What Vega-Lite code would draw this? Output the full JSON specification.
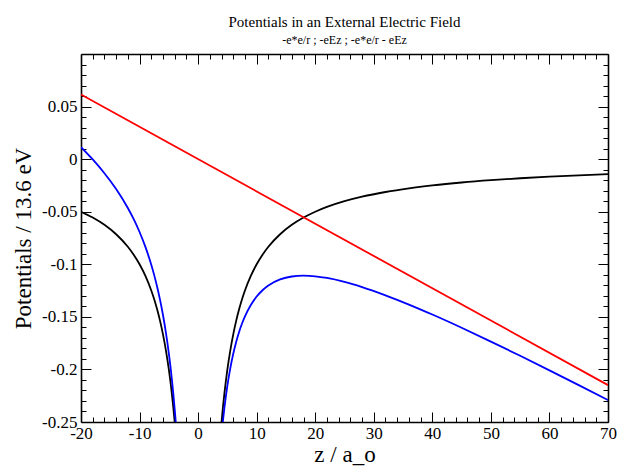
{
  "$schema": "https://vega.github.io/schema/vega-lite/v6.json",
  "width": 527,
  "height": 368,
  "autosize": {"type": "none"},
  "padding": {"left": 81, "top": 54, "right": 21, "bottom": 45},
  "background": "white",
  "title": {
    "text": "Potentials in an External Electric Field",
    "subtitle": "-e*e/r ; -eEz ; -e*e/r - eEz"
  },
  "data": {
    "values": [
      {"z": -20, "v": -0.05, "s": "Coulomb", "g": "c1"},
      {"z": -18, "v": -0.05556, "s": "Coulomb", "g": "c1"},
      {"z": -16, "v": -0.0625, "s": "Coulomb", "g": "c1"},
      {"z": -14, "v": -0.07143, "s": "Coulomb", "g": "c1"},
      {"z": -12, "v": -0.08333, "s": "Coulomb", "g": "c1"},
      {"z": -11, "v": -0.09091, "s": "Coulomb", "g": "c1"},
      {"z": -10, "v": -0.1, "s": "Coulomb", "g": "c1"},
      {"z": -9, "v": -0.11111, "s": "Coulomb", "g": "c1"},
      {"z": -8, "v": -0.125, "s": "Coulomb", "g": "c1"},
      {"z": -7.5, "v": -0.13333, "s": "Coulomb", "g": "c1"},
      {"z": -7, "v": -0.14286, "s": "Coulomb", "g": "c1"},
      {"z": -6.5, "v": -0.15385, "s": "Coulomb", "g": "c1"},
      {"z": -6, "v": -0.16667, "s": "Coulomb", "g": "c1"},
      {"z": -5.5, "v": -0.18182, "s": "Coulomb", "g": "c1"},
      {"z": -5, "v": -0.2, "s": "Coulomb", "g": "c1"},
      {"z": -4.75, "v": -0.21053, "s": "Coulomb", "g": "c1"},
      {"z": -4.5, "v": -0.22222, "s": "Coulomb", "g": "c1"},
      {"z": -4.25, "v": -0.23529, "s": "Coulomb", "g": "c1"},
      {"z": -4, "v": -0.25, "s": "Coulomb", "g": "c1"},
      {"z": -3.9, "v": -0.25641, "s": "Coulomb", "g": "c1"},
      {"z": 3.9, "v": -0.25641, "s": "Coulomb", "g": "c2"},
      {"z": 4, "v": -0.25, "s": "Coulomb", "g": "c2"},
      {"z": 4.25, "v": -0.23529, "s": "Coulomb", "g": "c2"},
      {"z": 4.5, "v": -0.22222, "s": "Coulomb", "g": "c2"},
      {"z": 4.75, "v": -0.21053, "s": "Coulomb", "g": "c2"},
      {"z": 5, "v": -0.2, "s": "Coulomb", "g": "c2"},
      {"z": 5.5, "v": -0.18182, "s": "Coulomb", "g": "c2"},
      {"z": 6, "v": -0.16667, "s": "Coulomb", "g": "c2"},
      {"z": 6.5, "v": -0.15385, "s": "Coulomb", "g": "c2"},
      {"z": 7, "v": -0.14286, "s": "Coulomb", "g": "c2"},
      {"z": 7.5, "v": -0.13333, "s": "Coulomb", "g": "c2"},
      {"z": 8, "v": -0.125, "s": "Coulomb", "g": "c2"},
      {"z": 9, "v": -0.11111, "s": "Coulomb", "g": "c2"},
      {"z": 10, "v": -0.1, "s": "Coulomb", "g": "c2"},
      {"z": 11, "v": -0.09091, "s": "Coulomb", "g": "c2"},
      {"z": 12, "v": -0.08333, "s": "Coulomb", "g": "c2"},
      {"z": 14, "v": -0.07143, "s": "Coulomb", "g": "c2"},
      {"z": 16, "v": -0.0625, "s": "Coulomb", "g": "c2"},
      {"z": 18, "v": -0.05556, "s": "Coulomb", "g": "c2"},
      {"z": 20, "v": -0.05, "s": "Coulomb", "g": "c2"},
      {"z": 22, "v": -0.04545, "s": "Coulomb", "g": "c2"},
      {"z": 25, "v": -0.04, "s": "Coulomb", "g": "c2"},
      {"z": 28, "v": -0.03571, "s": "Coulomb", "g": "c2"},
      {"z": 32, "v": -0.03125, "s": "Coulomb", "g": "c2"},
      {"z": 36, "v": -0.02778, "s": "Coulomb", "g": "c2"},
      {"z": 40, "v": -0.025, "s": "Coulomb", "g": "c2"},
      {"z": 45, "v": -0.02222, "s": "Coulomb", "g": "c2"},
      {"z": 50, "v": -0.02, "s": "Coulomb", "g": "c2"},
      {"z": 55, "v": -0.01818, "s": "Coulomb", "g": "c2"},
      {"z": 60, "v": -0.01667, "s": "Coulomb", "g": "c2"},
      {"z": 65, "v": -0.01538, "s": "Coulomb", "g": "c2"},
      {"z": 70, "v": -0.01429, "s": "Coulomb", "g": "c2"},
      {"z": -20, "v": 0.0614, "s": "Field", "g": "f"},
      {"z": 70, "v": -0.2149, "s": "Field", "g": "f"},
      {"z": -20, "v": 0.0114, "s": "Total", "g": "t1"},
      {"z": -18, "v": -0.0003, "s": "Total", "g": "t1"},
      {"z": -16, "v": -0.01338, "s": "Total", "g": "t1"},
      {"z": -14, "v": -0.02845, "s": "Total", "g": "t1"},
      {"z": -12, "v": -0.04649, "s": "Total", "g": "t1"},
      {"z": -11, "v": -0.05714, "s": "Total", "g": "t1"},
      {"z": -10, "v": -0.0693, "s": "Total", "g": "t1"},
      {"z": -9, "v": -0.08348, "s": "Total", "g": "t1"},
      {"z": -8, "v": -0.10044, "s": "Total", "g": "t1"},
      {"z": -7.5, "v": -0.1103, "s": "Total", "g": "t1"},
      {"z": -7, "v": -0.12137, "s": "Total", "g": "t1"},
      {"z": -6.5, "v": -0.13389, "s": "Total", "g": "t1"},
      {"z": -6, "v": -0.14825, "s": "Total", "g": "t1"},
      {"z": -5.5, "v": -0.16493, "s": "Total", "g": "t1"},
      {"z": -5, "v": -0.18465, "s": "Total", "g": "t1"},
      {"z": -4.75, "v": -0.19595, "s": "Total", "g": "t1"},
      {"z": -4.5, "v": -0.2084, "s": "Total", "g": "t1"},
      {"z": -4.25, "v": -0.22224, "s": "Total", "g": "t1"},
      {"z": -4, "v": -0.23772, "s": "Total", "g": "t1"},
      {"z": -3.9, "v": -0.24444, "s": "Total", "g": "t1"},
      {"z": -3.8, "v": -0.25149, "s": "Total", "g": "t1"},
      {"z": 4, "v": -0.26228, "s": "Total", "g": "t2"},
      {"z": 4.25, "v": -0.24834, "s": "Total", "g": "t2"},
      {"z": 4.5, "v": -0.23604, "s": "Total", "g": "t2"},
      {"z": 4.75, "v": -0.22511, "s": "Total", "g": "t2"},
      {"z": 5, "v": -0.21535, "s": "Total", "g": "t2"},
      {"z": 5.5, "v": -0.19871, "s": "Total", "g": "t2"},
      {"z": 6, "v": -0.18509, "s": "Total", "g": "t2"},
      {"z": 6.5, "v": -0.17381, "s": "Total", "g": "t2"},
      {"z": 7, "v": -0.16435, "s": "Total", "g": "t2"},
      {"z": 7.5, "v": -0.15636, "s": "Total", "g": "t2"},
      {"z": 8, "v": -0.14956, "s": "Total", "g": "t2"},
      {"z": 9, "v": -0.13874, "s": "Total", "g": "t2"},
      {"z": 10, "v": -0.1307, "s": "Total", "g": "t2"},
      {"z": 11, "v": -0.12468, "s": "Total", "g": "t2"},
      {"z": 12, "v": -0.12017, "s": "Total", "g": "t2"},
      {"z": 14, "v": -0.11441, "s": "Total", "g": "t2"},
      {"z": 16, "v": -0.11162, "s": "Total", "g": "t2"},
      {"z": 18, "v": -0.11082, "s": "Total", "g": "t2"},
      {"z": 20, "v": -0.1114, "s": "Total", "g": "t2"},
      {"z": 22, "v": -0.11299, "s": "Total", "g": "t2"},
      {"z": 25, "v": -0.11675, "s": "Total", "g": "t2"},
      {"z": 28, "v": -0.12167, "s": "Total", "g": "t2"},
      {"z": 32, "v": -0.12949, "s": "Total", "g": "t2"},
      {"z": 36, "v": -0.1383, "s": "Total", "g": "t2"},
      {"z": 40, "v": -0.1478, "s": "Total", "g": "t2"},
      {"z": 45, "v": -0.16037, "s": "Total", "g": "t2"},
      {"z": 50, "v": -0.1735, "s": "Total", "g": "t2"},
      {"z": 55, "v": -0.18703, "s": "Total", "g": "t2"},
      {"z": 60, "v": -0.20087, "s": "Total", "g": "t2"},
      {"z": 65, "v": -0.21493, "s": "Total", "g": "t2"},
      {"z": 70, "v": -0.22919, "s": "Total", "g": "t2"}
    ]
  },
  "resolve": {"axis": {"x": "independent", "y": "independent"}},
  "layer": [
    {
      "mark": {"type": "line", "clip": true, "strokeWidth": 1.8, "interpolate": "monotone"},
      "encoding": {
        "x": {
          "field": "z", "type": "quantitative",
          "scale": {"domain": [-20, 70], "nice": false, "zero": false},
          "axis": {
            "orient": "bottom", "values": [-20, -10, 0, 10, 20, 30, 40, 50, 60, 70],
            "tickSize": -10, "labelPadding": 13, "labelFlush": false, "labelOverlap": false,
            "labelExpr": "'' + datum.value", "title": "z / a_o", "titlePadding": 2
          }
        },
        "y": {
          "field": "v", "type": "quantitative",
          "scale": {"domain": [-0.25, 0.1], "nice": false, "zero": false},
          "axis": {
            "orient": "left", "values": [-0.25, -0.2, -0.15, -0.1, -0.05, 0, 0.05],
            "tickSize": -10, "labelPadding": 14, "labelFlush": false, "labelOverlap": false,
            "labelExpr": "'' + datum.value", "title": "Potentials / 13.6 eV", "titlePadding": 6
          }
        },
        "color": {
          "field": "s", "type": "nominal",
          "scale": {"domain": ["Coulomb", "Field", "Total"], "range": ["black", "red", "blue"]},
          "legend": null
        },
        "detail": {"field": "g", "type": "nominal"}
      }
    },
    {
      "mark": {"type": "line", "opacity": 0},
      "encoding": {
        "x": {
          "field": "z", "type": "quantitative",
          "axis": {
            "orient": "bottom",
            "values": [-18, -16, -14, -12, -8, -6, -4, -2, 2, 4, 6, 8, 12, 14, 16, 18, 22, 24, 26, 28, 32, 34, 36, 38, 42, 44, 46, 48, 52, 54, 56, 58, 62, 64, 66, 68],
            "tickSize": -5, "labels": false, "domain": false, "title": null
          }
        },
        "y": {
          "field": "v", "type": "quantitative",
          "axis": {
            "orient": "left",
            "values": [-0.24, -0.23, -0.22, -0.21, -0.19, -0.18, -0.17, -0.16, -0.14, -0.13, -0.12, -0.11, -0.09, -0.08, -0.07, -0.06, -0.04, -0.03, -0.02, -0.01, 0.01, 0.02, 0.03, 0.04, 0.06, 0.07, 0.08, 0.09],
            "tickSize": -5, "labels": false, "domain": false, "title": null
          }
        }
      }
    },
    {
      "mark": {"type": "line", "opacity": 0},
      "encoding": {
        "x": {
          "field": "z", "type": "quantitative",
          "axis": {
            "orient": "top", "values": [-20, -10, 0, 10, 20, 30, 40, 50, 60, 70],
            "tickSize": -10, "labels": false, "title": null
          }
        },
        "y": {
          "field": "v", "type": "quantitative",
          "axis": {
            "orient": "right", "values": [-0.25, -0.2, -0.15, -0.1, -0.05, 0, 0.05, 0.1],
            "tickSize": -10, "labels": false, "title": null
          }
        }
      }
    },
    {
      "mark": {"type": "line", "opacity": 0},
      "encoding": {
        "x": {
          "field": "z", "type": "quantitative",
          "axis": {
            "orient": "top",
            "values": [-18, -16, -14, -12, -8, -6, -4, -2, 2, 4, 6, 8, 12, 14, 16, 18, 22, 24, 26, 28, 32, 34, 36, 38, 42, 44, 46, 48, 52, 54, 56, 58, 62, 64, 66, 68],
            "tickSize": -5, "labels": false, "domain": false, "title": null
          }
        },
        "y": {
          "field": "v", "type": "quantitative",
          "axis": {
            "orient": "right",
            "values": [-0.24, -0.23, -0.22, -0.21, -0.19, -0.18, -0.17, -0.16, -0.14, -0.13, -0.12, -0.11, -0.09, -0.08, -0.07, -0.06, -0.04, -0.03, -0.02, -0.01, 0.01, 0.02, 0.03, 0.04, 0.06, 0.07, 0.08, 0.09],
            "tickSize": -5, "labels": false, "domain": false, "title": null
          }
        }
      }
    }
  ],
  "config": {
    "view": {"stroke": null},
    "title": {
      "font": "Liberation Serif",
      "fontSize": 15,
      "fontWeight": "normal",
      "color": "black",
      "subtitleFont": "Liberation Serif",
      "subtitleFontSize": 12,
      "subtitleColor": "black",
      "subtitlePadding": 5,
      "anchor": "middle",
      "offset": 8
    },
    "axis": {
      "grid": false,
      "domainColor": "black",
      "domainWidth": 1.6,
      "tickColor": "black",
      "tickWidth": 1,
      "labelFont": "Liberation Serif",
      "labelFontSize": 17,
      "labelColor": "black",
      "titleFont": "Liberation Serif",
      "titleFontSize": 23,
      "titleFontWeight": "normal",
      "titleColor": "black"
    }
  }
}
